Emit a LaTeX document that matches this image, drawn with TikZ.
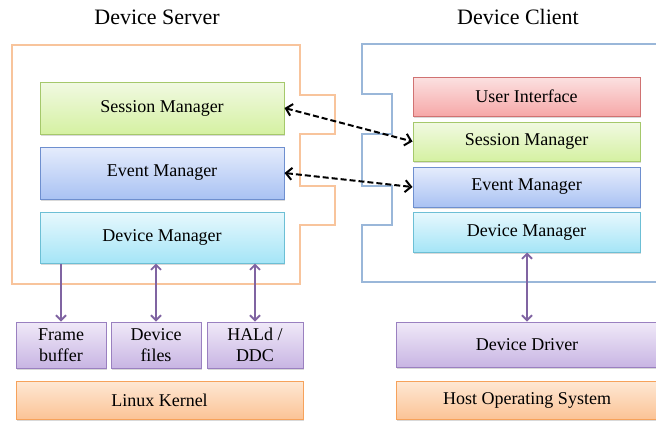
\documentclass[tikz,border=0pt]{standalone}
\usepackage{fontspec}
\setmainfont{Liberation Serif}
\usetikzlibrary{arrows.meta,shadows}

\definecolor{sessTop}{HTML}{F1F9E2}
\definecolor{sessBot}{HTML}{D5F1A2}
\definecolor{sessLine}{HTML}{A5C86B}
\definecolor{evtTop}{HTML}{E5ECFC}
\definecolor{evtBot}{HTML}{A9C2F3}
\definecolor{evtLine}{HTML}{6E8FCF}
\definecolor{devTop}{HTML}{E7F8FD}
\definecolor{devBot}{HTML}{A5E5F7}
\definecolor{devLine}{HTML}{6CBFD5}
\definecolor{uiTop}{HTML}{FBE1E1}
\definecolor{uiBot}{HTML}{F6A8A8}
\definecolor{uiLine}{HTML}{D07272}
\definecolor{osTop}{HTML}{F0E9F8}
\definecolor{osBot}{HTML}{C8B5E3}
\definecolor{osLine}{HTML}{9A80C0}
\definecolor{kerTop}{HTML}{FEE8D4}
\definecolor{kerBot}{HTML}{FBC396}
\definecolor{kerLine}{HTML}{F6A25B}
\definecolor{serverLine}{HTML}{F8C49C}
\definecolor{clientLine}{HTML}{9AB7D9}
\definecolor{linkPurple}{HTML}{8064A2}

\begin{document}
\begin{tikzpicture}[x=1pt, y=-1pt,
    box/.style={draw, line width=1pt, inner sep=0pt, align=center,
                font=\fontsize{18}{21}\selectfont,
                drop shadow={shadow xshift=1pt, shadow yshift=-1.5pt, opacity=0.3}},
    sessbox/.style={box, draw=sessLine, top color=sessTop, bottom color=sessBot},
    evtbox/.style={box, draw=evtLine, top color=evtTop, bottom color=evtBot},
    devbox/.style={box, draw=devLine, top color=devTop, bottom color=devBot},
    uibox/.style={box, draw=uiLine, top color=uiTop, bottom color=uiBot},
    osbox/.style={box, draw=osLine, top color=osTop, bottom color=osBot},
    kerbox/.style={box, draw=kerLine, top color=kerTop, bottom color=kerBot},
    title/.style={font=\fontsize{22}{26}\selectfont},
    peer/.style={{Straight Barb[length=6pt,width=12pt]}-{Straight Barb[length=6pt,width=12pt]},
                 line width=2pt, dash pattern=on 6pt off 3pt},
    local/.style={line width=1.8pt, draw=linkPurple},
    tip/.tip={Straight Barb[length=5pt,width=10pt]}]
\useasboundingbox (0,0) rectangle (656,421);

% outlines
\draw[serverLine, line width=2.5pt] (12,45) -- (300,45) -- (300,95) -- (335,95) -- (335,134)
    -- (300,134) -- (300,186) -- (335,186) -- (335,225) -- (300,225) -- (300,284) -- (12,284) -- cycle;
\draw[clientLine, line width=2.5pt] (670,44) -- (362,44) -- (362,94) -- (392,94) -- (392,134)
    -- (362,134) -- (362,186) -- (392,186) -- (392,225) -- (362,225) -- (362,282) -- (670,282);

\node[title] (serverTitle) at (157,17) {Device Server};
\node[title] (clientTitle) at (518,17) {Device Client};

% device server
\node[sessbox, minimum width=244pt, minimum height=52pt] (sSess) at (162,108) {Session Manager};
\node[evtbox, minimum width=244pt, minimum height=52pt] (sEvt) at (162,173) {Event Manager};
\node[devbox, minimum width=244pt, minimum height=51pt] (sDev) at (162,237.5) {Device Manager};

% device client
\node[uibox, minimum width=227pt, minimum height=39pt] (cUi) at (526.5,96.5) {User Interface};
\node[sessbox, minimum width=227pt, minimum height=39pt] (cSess) at (526.5,141.5) {Session Manager};
\node[evtbox, minimum width=227pt, minimum height=40pt] (cEvt) at (526.5,187) {Event Manager};
\node[devbox, minimum width=227pt, minimum height=40pt] (cDev) at (526.5,232) {Device Manager};

% platform layers
\node[osbox, minimum width=90pt, minimum height=46pt] (fb) at (61,345) {Frame\\buffer};
\node[osbox, minimum width=90pt, minimum height=46pt] (files) at (156,345) {Device\\files};
\node[osbox, minimum width=96pt, minimum height=46pt] (hald) at (255,345) {HALd /\\DDC};
\node[kerbox, minimum width=287pt, minimum height=38pt] (kernel) at (159.5,400) {Linux Kernel};
\node[osbox, minimum width=262pt, minimum height=45pt] (driver) at (527,344.5) {Device Driver};
\node[kerbox, minimum width=262pt, minimum height=38pt] (hostOs) at (527,400) {Host Operating System};

% connections
\draw[peer] (sSess.east) -- (cSess.west);
\draw[peer] (sEvt.east) -- (cEvt.west);
\draw[local, -tip] (sDev.south -| fb.north) -- (fb.north);
\draw[local, tip-tip] (sDev.south -| files.north) -- (files.north);
\draw[local, tip-tip] (sDev.south -| hald.north) -- (hald.north);
\draw[local, tip-tip] (cDev.south -| driver.north) -- (driver.north);
\end{tikzpicture}
\end{document}
